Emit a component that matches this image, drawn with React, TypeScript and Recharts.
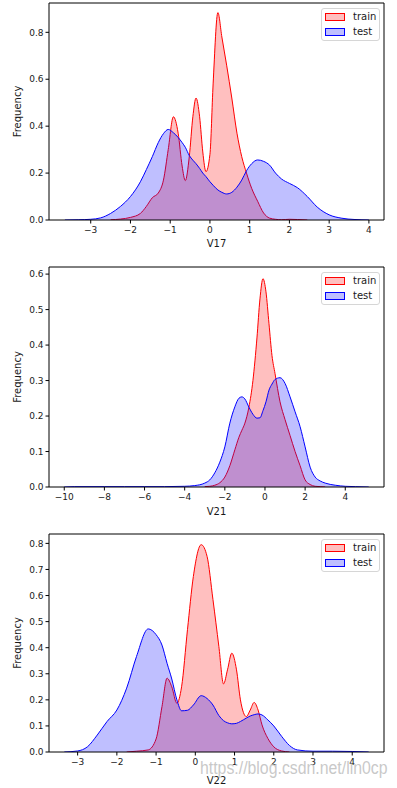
import React from 'react';
import { ComposedChart, Area, XAxis, YAxis, ReferenceLine } from 'recharts';

// V17 density curves (x grid shared by both series, null = outside the kde range)
const V17_X = [-3.65, -3.3, -3.0, -2.75, -2.5, -2.25, -2.0, -1.75, -1.6, -1.45, -1.3, -1.17, -1.05, -0.92, -0.8, -0.7, -0.62, -0.52, -0.43, -0.35, -0.26, -0.18, -0.1, 0.0, 0.08, 0.2, 0.3, 0.42, 0.55, 0.68, 0.8, 0.92, 1.05, 1.2, 1.35, 1.5, 1.65, 1.8, 2.0, 2.2, 2.45, 2.7, 3.0, 3.3, 3.65, 4.0];
const V17_TRAIN = [null, null, null, null, 0.001, 0.004, 0.011, 0.028, 0.058, 0.095, 0.115, 0.17, 0.3, 0.44, 0.37, 0.23, 0.168, 0.27, 0.44, 0.52, 0.44, 0.29, 0.206, 0.28, 0.58, 0.884, 0.78, 0.66, 0.52, 0.37, 0.27, 0.2, 0.135, 0.08, 0.03, 0.008, 0.003, 0.001, 0.003, 0.002, 0, null, null, null, null, null];
const V17_TEST = [0, 0.001, 0.003, 0.009, 0.028, 0.058, 0.1, 0.163, 0.215, 0.27, 0.33, 0.368, 0.386, 0.372, 0.352, 0.33, 0.31, 0.275, 0.255, 0.24, 0.22, 0.2, 0.185, 0.163, 0.148, 0.128, 0.118, 0.111, 0.118, 0.14, 0.17, 0.21, 0.24, 0.256, 0.25, 0.234, 0.2, 0.175, 0.156, 0.138, 0.1, 0.055, 0.022, 0.008, 0.002, 0];

// V21
const V21_X = [-10, -9.5, -8, -7, -6, -5, -4, -3.5, -3.0, -2.75, -2.5, -2.25, -2.0, -1.75, -1.5, -1.3, -1.15, -1.0, -0.8, -0.6, -0.4, -0.25, -0.1, 0.05, 0.2, 0.35, 0.5, 0.75, 1.0, 1.25, 1.5, 1.75, 2.0, 2.25, 2.5, 2.75, 3.0, 3.5, 4.0, 4.5, 5.17];
const V21_TRAIN = [null, null, null, null, null, null, null, null, 0.001, 0.002, 0.005, 0.012, 0.028, 0.06, 0.105, 0.14, 0.16, 0.18, 0.225, 0.3, 0.42, 0.53, 0.587, 0.55, 0.46, 0.37, 0.32, 0.24, 0.19, 0.145, 0.1, 0.06, 0.02, 0.007, 0.002, 0.001, 0, null, null, null, null];
const V21_TEST = [0, 0.001, 0.001, 0.001, 0.001, 0.001, 0.002, 0.004, 0.011, 0.02, 0.04, 0.07, 0.113, 0.18, 0.226, 0.25, 0.254, 0.248, 0.225, 0.205, 0.194, 0.195, 0.215, 0.24, 0.273, 0.29, 0.303, 0.308, 0.292, 0.254, 0.212, 0.17, 0.113, 0.056, 0.028, 0.017, 0.011, 0.005, 0.002, 0.001, 0];

// V22
const V22_X = [-3.34, -3.0, -2.75, -2.5, -2.25, -2.0, -1.75, -1.5, -1.2, -1.0, -0.85, -0.72, -0.6, -0.47, -0.35, -0.2, -0.05, 0.15, 0.3, 0.45, 0.6, 0.72, 0.82, 0.93, 1.05, 1.15, 1.3, 1.4, 1.5, 1.6, 1.7, 1.85, 2.0, 2.2, 2.4, 2.6, 3.0, 3.5, 4.0, 4.42];
const V22_TRAIN = [null, null, null, null, null, null, 0, 0.003, 0.008, 0.05, 0.174, 0.283, 0.25, 0.187, 0.25, 0.469, 0.673, 0.795, 0.75, 0.584, 0.405, 0.261, 0.315, 0.379, 0.315, 0.2, 0.136, 0.161, 0.19, 0.161, 0.104, 0.052, 0.02, 0.004, 0, null, null, null, null, null];
const V22_TEST = [0, 0.004, 0.02, 0.065, 0.117, 0.161, 0.245, 0.366, 0.472, 0.45, 0.41, 0.34, 0.28, 0.2, 0.158, 0.16, 0.18, 0.216, 0.205, 0.18, 0.14, 0.12, 0.112, 0.108, 0.11, 0.117, 0.13, 0.138, 0.143, 0.146, 0.142, 0.123, 0.1, 0.06, 0.025, 0.008, 0.003, 0.003, 0.002, 0];

const V17_XTICKS = [-3, -2, -1, 0, 1, 2, 3, 4];
const V21_XTICKS = [-10, -8, -6, -4, -2, 0, 2, 4];
const V22_XTICKS = [-3, -2, -1, 0, 1, 2, 3, 4];
const V17_YTICKS = [0, 0.2, 0.4, 0.6, 0.8];
const V21_YTICKS = [0, 0.1, 0.2, 0.3, 0.4, 0.5, 0.6];
const V22_YTICKS = [0, 0.1, 0.2, 0.3, 0.4, 0.5, 0.6, 0.7, 0.8];

const FONT = "'DejaVu Sans', sans-serif";
const TICK = { fontSize: 9, fill: '#1a1a1a', fontFamily: FONT };
const LABEL = { fontSize: 10, fill: '#1a1a1a', fontFamily: FONT };

const fmtX = (v: number) => (v < 0 ? '\u2212' + Math.abs(v) : String(v));
const fmtY = (v: number) => v.toFixed(1);

const toRows = (xs: number[], train: (number | null)[], test: (number | null)[]) =>
  xs.map((x, i) => ({ x, train: train[i], test: test[i] }));

const LegendBox = ({ top }: { top: number }) => (
  <div style={{
    position: 'absolute', top, left: 321, width: 57, height: 31,
    background: 'rgba(255,255,255,0.8)', border: '1px solid #d6d6d6', borderRadius: 3,
    fontFamily: FONT, fontSize: 10, color: '#1a1a1a',
  }}>
    {[
      { name: 'train', c: '#ff0000', f: 'rgba(255,0,0,0.25)' },
      { name: 'test', c: '#0000ff', f: 'rgba(0,0,255,0.25)' },
    ].map((e, i) => (
      <div key={e.name} style={{ position: 'absolute', left: 3, top: 4 + i * 15, height: 8, display: 'flex', alignItems: 'center' }}>
        <div style={{ width: 18, height: 6, border: `1px solid ${e.c}`, background: e.f }} />
        <span style={{ marginLeft: 8, lineHeight: '8px' }}>{e.name}</span>
      </div>
    ))}
  </div>
);

interface PanelProps {
  rows: { x: number; train: number | null; test: number | null }[];
  xDomain: [number, number];
  xTicks: number[];
  yMax: number;
  yTicks: number[];
  name: string;
  height: number;
  plotTop: number;
  xAxisH: number;
  labelOffset: number;
}

const Panel: React.FC<PanelProps> = ({ rows, xDomain, xTicks, yMax, yTicks, name, height, plotTop, xAxisH, labelOffset }) => (
  <div style={{ position: 'relative', width: 397, height }}>
    <ComposedChart width={397} height={height} data={rows} margin={{ top: plotTop, right: 13, bottom: 0, left: 0 }}>
      <XAxis
        dataKey="x" type="number" domain={xDomain} ticks={xTicks} allowDataOverflow
        height={xAxisH} tick={TICK} tickFormatter={fmtX} tickSize={3.5} tickMargin={3}
        axisLine={{ stroke: '#000' }} tickLine={{ stroke: '#000' }} interval={0}
        label={{ value: name, position: 'insideBottom', offset: labelOffset, style: LABEL }}
      />
      <YAxis
        type="number" domain={[0, yMax]} ticks={yTicks} allowDataOverflow width={49}
        tick={TICK} tickFormatter={fmtY} tickSize={3.5} tickMargin={2} interval={0}
        axisLine={{ stroke: '#000' }} tickLine={{ stroke: '#000' }}
        label={{ value: 'Frequency', angle: -90, position: 'insideLeft', offset: 17, style: { ...LABEL, textAnchor: 'middle' } }}
      />
      <Area type="monotone" dataKey="train" baseValue={0} stroke="#ff0000" strokeWidth={1} fill="#ff0000" fillOpacity={0.25} dot={false} activeDot={false} isAnimationActive={false} />
      <Area type="monotone" dataKey="test" baseValue={0} stroke="#0000ff" strokeWidth={1} fill="#0000ff" fillOpacity={0.25} dot={false} activeDot={false} isAnimationActive={false} />
      {/* top and right spines */}
      <ReferenceLine y={yMax} stroke="#000" strokeWidth={1} ifOverflow="visible" />
      <ReferenceLine x={xDomain[1]} stroke="#000" strokeWidth={1} ifOverflow="visible" />
    </ComposedChart>
    <LegendBox top={plotTop + 5} />
  </div>
);

export default function App() {
  return (
    <div style={{ position: 'absolute', top: 0, left: 0, width: 397, height: 788, background: '#fff', overflow: 'hidden' }}>
      <Panel rows={toRows(V17_X, V17_TRAIN, V17_TEST)} xDomain={[-4.05, 4.38]} xTicks={V17_XTICKS} yMax={0.925} yTicks={V17_YTICKS}
        name="V17" height={262} plotTop={3} xAxisH={42} labelOffset={15} />
      <Panel rows={toRows(V21_X, V21_TRAIN, V21_TEST)} xDomain={[-10.76, 5.93]} xTicks={V21_XTICKS} yMax={0.62} yTicks={V21_YTICKS}
        name="V21" height={264} plotTop={5} xAxisH={39} labelOffset={11} />
      <Panel rows={toRows(V22_X, V22_TRAIN, V22_TEST)} xDomain={[-3.73, 4.81]} xTicks={V22_XTICKS} yMax={0.836} yTicks={V22_YTICKS}
        name="V22" height={262} plotTop={8} xAxisH={36} labelOffset={4} />
      <div style={{
        position: 'absolute', left: 200, top: 758, fontFamily: "'Liberation Sans', Arial, sans-serif", fontSize: 18,
        color: 'rgba(190,190,190,0.85)', whiteSpace: 'nowrap', transform: 'scaleX(0.88)', transformOrigin: 'left top',
      }}>
        https://blog.csdn.net/lin0cp
      </div>
    </div>
  );
}
